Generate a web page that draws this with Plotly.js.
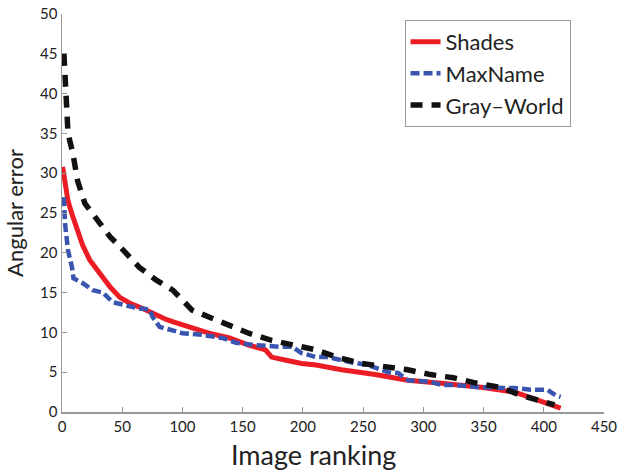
<!DOCTYPE html>
<html><head><meta charset="utf-8">
<script src="https://cdn.plot.ly/plotly-3.0.1.min.js"></script>
<style>html,body{margin:0;padding:0;background:#fff}#chart{width:618px;height:471px}</style>
</head><body><div id="chart"></div>
<script>
var shadesX = [0.5, 2.5, 5, 8, 12, 17, 23, 31, 40, 48, 56, 67, 75, 87, 95, 106, 122, 139, 155, 169, 174, 186, 199, 211, 232, 260, 287, 315, 329, 348, 376, 389, 403, 414];
var shadesY = [30.8, 28.5, 26.5, 25.0, 23.3, 21.0, 19.1, 17.5, 15.7, 14.4, 13.7, 13.0, 12.4, 11.6, 11.2, 10.7, 9.9, 9.3, 8.4, 7.8, 6.9, 6.5, 6.1, 5.9, 5.3, 4.7, 4.0, 3.6, 3.4, 3.1, 2.5, 1.8, 1.1, 0.5];

var maxNameX = [1.5, 2.5, 5, 8.3, 9.5, 17, 25.6, 34, 42, 53, 64, 72.7, 75, 81, 91, 100, 116, 133, 144.5, 161, 180, 191, 199, 211, 221, 238, 254, 271, 279, 287, 306, 315, 326, 348, 376, 389, 403, 410, 414];
var maxNameY = [27.0, 23.7, 20.3, 18.2, 16.8, 16.2, 15.3, 15.0, 13.8, 13.4, 13.0, 12.9, 12.0, 10.7, 10.3, 9.9, 9.7, 9.3, 8.7, 8.4, 8.2, 8.2, 7.4, 6.9, 6.9, 6.3, 5.9, 5.0, 4.9, 4.0, 3.8, 3.4, 3.4, 3.1, 3.0, 2.8, 2.8, 2.1, 1.9];

var grayWorldX = [1.6, 3.3, 5, 9, 13, 19, 29, 40, 51, 64, 78, 92, 108, 122, 139, 155, 174, 194, 211, 230, 249, 268, 287, 306, 325, 345, 364, 381, 400, 409];
var grayWorldY = [45.0, 40.0, 35.0, 32.5, 29.0, 26.2, 24.1, 22.0, 20.3, 18.2, 16.6, 15.3, 12.8, 11.9, 10.9, 9.9, 9.0, 8.4, 7.8, 6.8, 6.1, 5.7, 5.3, 4.7, 4.3, 3.6, 3.1, 2.1, 1.3, 0.9];

var xTicks = [0, 50, 100, 150, 200, 250, 300, 350, 400, 450];
var yTicks = [0, 5, 10, 15, 20, 25, 30, 35, 40, 45, 50];
var seriesNames = ['Shades', 'MaxName', 'Gray\u2013World'];

var traces = [
  {x: shadesX, y: shadesY, name: seriesNames[0], mode: 'lines', line: {color: '#ec1c24', width: 5}},
  {x: maxNameX, y: maxNameY, name: seriesNames[1], mode: 'lines', line: {color: '#3a55b0', width: 4.5, dash: '9px,4px'}},
  {x: grayWorldX, y: grayWorldY, name: seriesNames[2], mode: 'lines', line: {color: '#111111', width: 5.5, dash: '12px,9px'}}
];

var fam = 'Lato, Open Sans, sans-serif';
var axisFont = {family: fam, size: 15, color: '#222'};
var layout = {
  width: 618, height: 471,
  margin: {l: 62, r: 14, t: 14, b: 59, pad: 0},
  paper_bgcolor: '#fff', plot_bgcolor: '#fff',
  showlegend: true,
  legend: {x: 0.632, y: 0.985, xanchor: 'left', yanchor: 'top',
    bordercolor: '#999', borderwidth: 1, bgcolor: '#fff',
    font: {family: fam, size: 22, color: '#222'},
    tracegroupgap: 0, itemwidth: 30},
  xaxis: {range: [0, 450], tickvals: xTicks, ticktext: xTicks.map(String),
    showgrid: false, zeroline: false, showline: true, linecolor: '#999', linewidth: 1.5,
    ticks: 'inside', ticklen: 5, tickcolor: '#999', tickfont: axisFont, ticklabeloverflow: 'allow'},
  yaxis: {range: [0, 50], tickvals: yTicks, ticktext: yTicks.map(String),
    showgrid: false, zeroline: false, showline: true, linecolor: '#999', linewidth: 1.5,
    ticks: 'inside', ticklen: 5, tickcolor: '#999', tickfont: axisFont,
    title: {text: 'Angular error', font: {family: fam, size: 22, color: '#222'}, standoff: 10}},
  annotations: [{text: 'Image ranking', xref: 'paper', yref: 'paper', x: 0.464, y: -0.108,
    xanchor: 'center', yanchor: 'middle', showarrow: false,
    font: {family: fam, size: 27, color: '#222'}}]
};
Plotly.newPlot('chart', traces, layout, {staticPlot: true, displayModeBar: false});
</script></body></html>
